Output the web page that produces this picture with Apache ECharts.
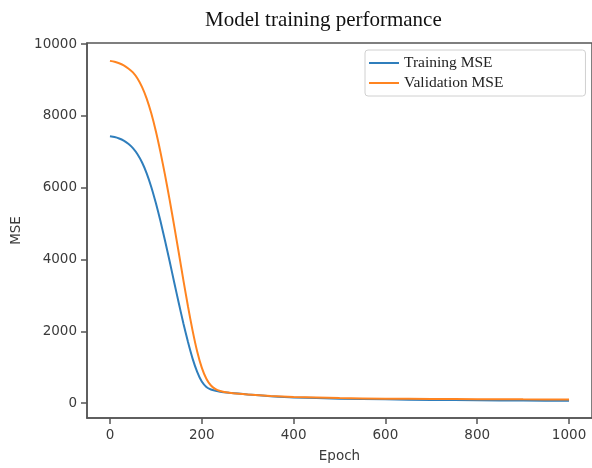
<!DOCTYPE html>
<html>
<head>
<meta charset="utf-8">
<script src="https://cdn.jsdelivr.net/npm/echarts@6/dist/echarts.min.js"></script>
<style>
  html, body { margin: 0; padding: 0; background: #fff; }
  #main { width: 592px; height: 468px; }
</style>
</head>
<body>
<div id="main"></div>
<script>
// values
const epochs = [0, 10, 20, 30, 40, 50, 60, 70, 80, 90, 100, 110, 120, 130, 140, 150, 160, 170, 180, 190, 200, 210, 220, 230, 240,
  260, 280, 300, 350, 400, 500, 600, 700, 800, 900, 1000];
const trainMse = [7430, 7410, 7370, 7310, 7220, 7100, 6930, 6700, 6400, 6020, 5570, 5070, 4520, 3950, 3360, 2780, 2220, 1700, 1240, 870, 600, 450, 380, 345, 320,
  290, 265, 240, 195, 160, 125, 105, 90, 80, 72, 65];
const valMse = [9530, 9505, 9465, 9405, 9320, 9210, 9040, 8800, 8480, 8070, 7570, 6990, 6350, 5660, 4930, 4180, 3420, 2690, 2020, 1440, 990, 680, 490, 390, 340,
  290, 260, 240, 200, 170, 140, 125, 117, 111, 105, 100];
const xTicks = [0, 200, 400, 600, 800, 1000];
const yTicks = [0, 2000, 4000, 6000, 8000, 10000];

const pairs = ys => epochs.map((e, i) => [e, ys[i]]);

const chart = echarts.init(document.getElementById('main'));

const spine = '#555';
const tickLabel = { color: '#3a3a3a', fontSize: 13.5, fontFamily: 'DejaVu Sans', formatter: v => String(v) };

chart.setOption({
  animation: false,
  title: {
    text: 'Model training performance',
    left: 200,
    top: 5,
    textStyle: { fontFamily: 'Liberation Serif', fontSize: 21, fontWeight: 'normal', color: '#111' }
  },
  grid: {
    left: 87, top: 43, width: 508, bottom: 47,
    show: true, borderColor: spine, borderWidth: 1.5
  },
  legend: {
    orient: 'vertical',
    left: 365, top: 50,
    padding: [5, 82, 5, 4],
    itemGap: 4,
    itemWidth: 30, itemHeight: 2,
    icon: 'rect',
    borderColor: '#d0d0d0', borderWidth: 1, borderRadius: 3,
    textStyle: { fontFamily: 'Liberation Serif', fontSize: 15.5, color: '#222' },
    data: ['Training MSE', 'Validation MSE']
  },
  xAxis: {
    type: 'value',
    min: -50, max: 1050,
    name: 'Epoch',
    nameLocation: 'middle',
    nameGap: 31,
    nameTextStyle: { color: '#3a3a3a', fontSize: 13.5, fontFamily: 'DejaVu Sans' },
    axisLine: { show: true, onZero: false, lineStyle: { color: spine, width: 1.5 } },
    axisTick: { show: true, inside: false, customValues: xTicks, length: 6, lineStyle: { color: spine, width: 1.5 } },
    axisLabel: Object.assign({ customValues: xTicks, margin: 10 }, tickLabel),
    splitLine: { show: false }
  },
  yAxis: {
    type: 'value',
    min: -414, max: 10028,
    name: 'MSE',
    nameLocation: 'middle',
    nameGap: 64,
    nameTextStyle: { color: '#3a3a3a', fontSize: 13.5, fontFamily: 'DejaVu Sans' },
    axisLine: { show: true, onZero: false, lineStyle: { color: spine, width: 1.5 } },
    axisTick: { show: true, inside: false, customValues: yTicks, length: 6, lineStyle: { color: spine, width: 1.5 } },
    axisLabel: Object.assign({ customValues: yTicks, margin: 10 }, tickLabel),
    splitLine: { show: false }
  },
  series: [
    {
      name: 'Training MSE',
      type: 'line',
      data: pairs(trainMse),
      smooth: 0.2,
      showSymbol: false,
      color: '#2f7ebc',
      lineStyle: { width: 2 }
    },
    {
      name: 'Validation MSE',
      type: 'line',
      data: pairs(valMse),
      smooth: 0.2,
      showSymbol: false,
      color: '#ff8420',
      lineStyle: { width: 2 }
    }
  ]
});
</script>
</body>
</html>
